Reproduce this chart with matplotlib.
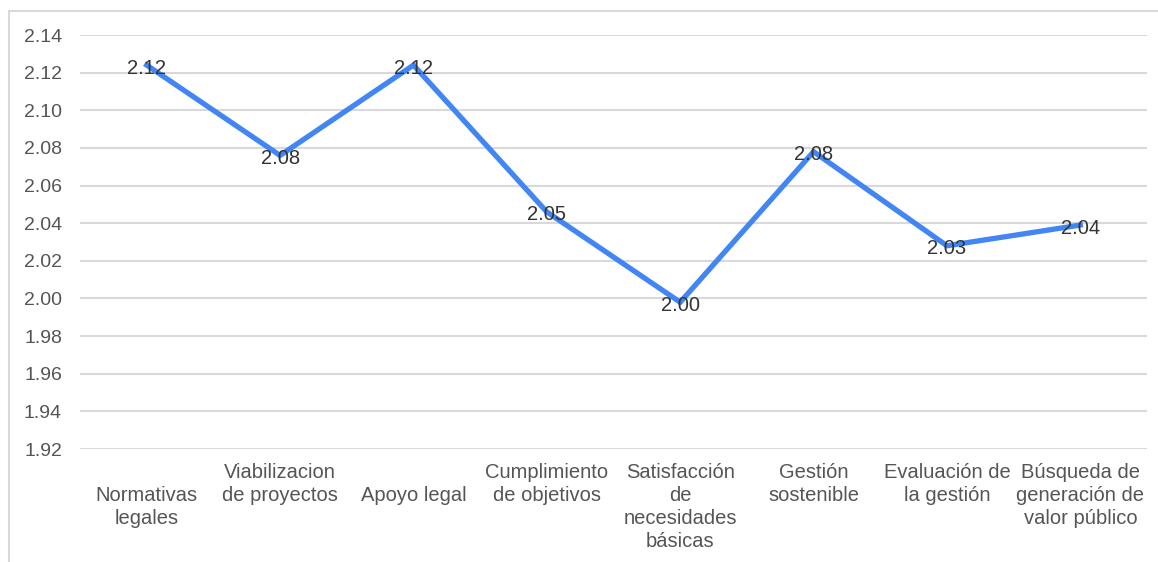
import matplotlib.pyplot as plt
from matplotlib.patches import Rectangle
from matplotlib.transforms import offset_copy

plt.rcParams['font.family'] = ['Liberation Sans', 'DejaVu Sans']

# categories (newlines follow the wrapping in the source chart)
categories = [
    "\nNormativas\nlegales",
    "Viabilizacion\nde proyectos",
    "\nApoyo legal",
    "Cumplimiento\nde objetivos",
    "Satisfacción\nde\nnecesidades\nbásicas",
    "Gestión\nsostenible",
    "Evaluación de\nla gestión",
    "Búsqueda de\ngeneración de\nvalor público",
]
values = [2.124, 2.076, 2.124, 2.046, 1.998, 2.078, 2.028, 2.039]
labels = ["2.12", "2.08", "2.12", "2.05", "2.00", "2.08", "2.03", "2.04"]
yticks = [1.92, 1.94, 1.96, 1.98, 2.00, 2.02, 2.04, 2.06, 2.08, 2.10, 2.12, 2.14]

fig = plt.figure(figsize=(11.58, 5.62), dpi=100)
ax = fig.add_axes([80 / 1158, 1 - 449 / 562, (1147 - 80) / 1158, (449 - 35) / 562])

# light frame around the chart
fig.patches.append(Rectangle((9 / 1158, -0.1), 1.2, 1 - 11 / 562 + 0.1,
                             transform=fig.transFigure, fill=False,
                             edgecolor="#d9d9d9", linewidth=1.5))

x = list(range(len(values)))
ax.plot(x, values, color="#4285f4", linewidth=3.8, solid_joinstyle="miter", zorder=3)
lab_tr = offset_copy(ax.transData, fig=fig, x=0, y=-3, units="dots")
for xi, v, t in zip(x, values, labels):
    ax.text(xi, v, t, ha="center", va="center", fontsize=14.5, color="#333333",
            transform=lab_tr, zorder=4)

ax.set_xlim(-0.5, len(values) - 0.5)
ax.set_ylim(1.92, 2.14)
ax.set_yticks(yticks)
ax.set_yticklabels([f"{t:.2f}" for t in yticks])
ax.set_xticks(x)
ax.set_xticklabels(categories, linespacing=1.28)
ax.yaxis.grid(True, color="#d9d9d9", linewidth=1.5)
ax.set_axisbelow(True)
for s in ax.spines.values():
    s.set_visible(False)
ax.tick_params(axis="y", length=0, pad=13, labelsize=14, labelcolor="#555555")
ax.tick_params(axis="x", length=0, pad=10, labelsize=14.5, labelcolor="#555555")
for lab in ax.get_xticklabels():
    lab.set_verticalalignment("top")
    lab.set_multialignment("center")

fig.savefig("out.png", dpi=100)
